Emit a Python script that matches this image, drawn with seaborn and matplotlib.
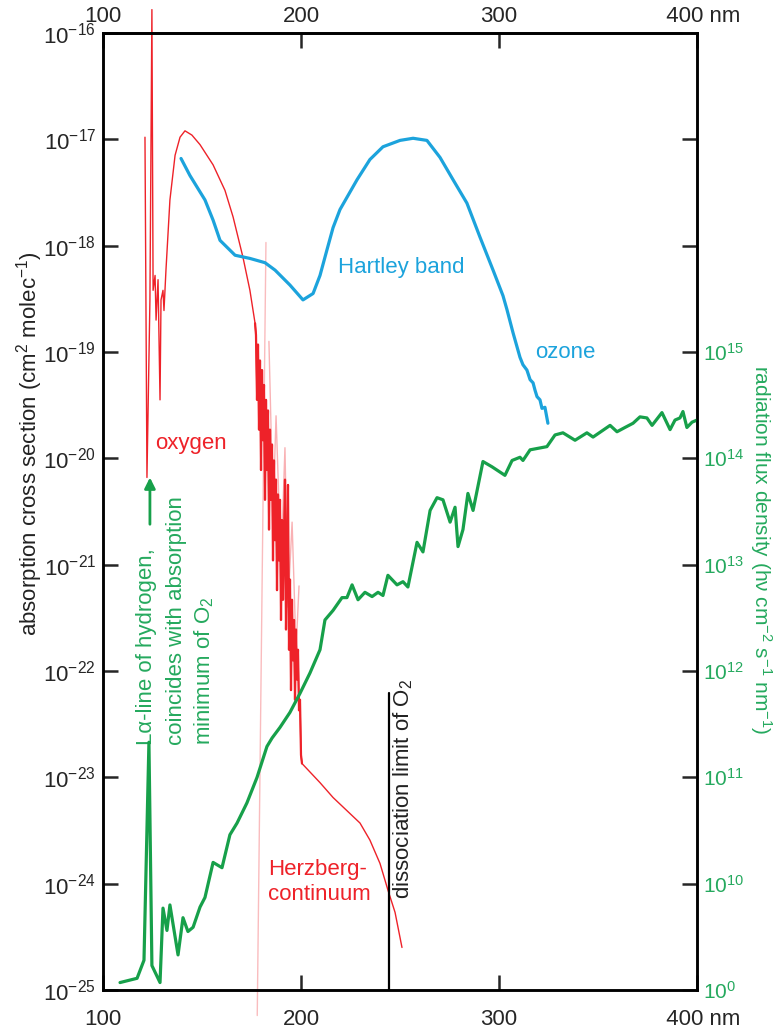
import numpy as np
import matplotlib
matplotlib.use("Agg")
import matplotlib.pyplot as plt
import seaborn as sns

# ---------------- data (wavelength in nm, values as log10) ----------------
# O2 absorption cross section (cm^2 molec^-1)
o2_wl = [121.2, 122.2, 123.7, 124.7, 125.3, 126.3, 126.8, 127.8, 128.8, 129.3,
         130.3, 130.8, 131.8, 133.8, 136.4, 138.9, 141.4, 144.9, 149.0, 155.6,
         161.6, 165.7, 170.7, 174.2, 176.8,
         177.27, 177.78, 178.28, 178.79, 179.29, 179.80, 180.30, 180.81, 181.31, 181.82,
         182.32, 182.83, 183.33, 183.84, 184.34, 184.85, 185.35, 185.86, 186.36, 186.87,
         187.37, 187.88, 188.38, 188.89, 189.39, 189.90, 190.40, 190.91, 191.41, 191.92,
         192.42, 192.93, 193.43, 193.94, 194.44, 194.95, 195.45, 195.96, 196.46, 196.97,
         197.47, 197.98, 198.48, 198.99, 199.49, 200.00, 200.50,
         209.6, 216.2, 224.7, 229.8, 234.8, 239.9, 243.9, 247.5, 251.0]
o2_log = [-16.98, -20.18, -18.51, -15.78, -18.42, -18.28, -18.70, -18.32, -19.45, -18.51,
          -18.42, -18.61, -18.23, -17.57, -17.15, -16.98, -16.92, -16.96, -17.05, -17.24,
          -17.48, -17.73, -18.11, -18.42, -18.73,
          -18.84, -19.45, -18.93, -19.73, -19.08, -20.11, -19.17, -19.83, -19.31, -20.39,
          -19.45, -20.11, -19.55, -20.67, -19.73, -20.39, -19.87, -20.96, -20.02, -20.77,
          -20.20, -21.24, -20.34, -20.96, -20.39, -21.52, -20.58, -21.33, -20.77, -20.20,
          -21.61, -20.96, -20.25, -21.80, -21.14, -22.18, -21.33, -21.90, -21.52, -22.27,
          -21.61, -22.08, -21.80, -22.37, -22.27, -22.79, -22.87,
          -23.05, -23.19, -23.34, -23.43, -23.59, -23.81, -24.06, -24.27, -24.60]
# index range of the Schumann-Runge band structure inside the O2 arrays
sr_start, sr_stop = 24, 72

# faint Schumann-Runge band lines
sr_line_wl = [182.3, 177.9]
sr_line_log = [-17.97, -25.24]
sr_fringe_wl = [183.8, 185.9, 187.4, 189.9, 191.9, 193.4, 195.5, 197.5, 199.0]
sr_fringe_log = [-18.9, -20.5, -19.6, -21.0, -19.9, -21.4, -20.6, -21.8, -21.2]

# O3 absorption cross section (cm^2 molec^-1)
o3_wl = [139.4, 143.9, 151.5, 155.6, 159.1, 166.7, 174.2, 181.8, 186.9, 194.4,
         201.0, 206.1, 209.6, 213.1, 216.2, 219.7, 228.3, 234.8, 241.4, 250.0,
         256.6, 263.6, 270.2, 276.8, 283.8, 290.4, 297.0, 302.0, 304.0, 307.1,
         310.6, 312.1, 314.1, 315.7, 317.2, 318.2, 319.2, 320.7, 321.7, 323.2, 324.7]
o3_log = [-17.18, -17.34, -17.57, -17.76, -17.95, -18.09, -18.12, -18.16, -18.23, -18.37,
          -18.51, -18.45, -18.28, -18.04, -17.83, -17.66, -17.38, -17.19, -17.07, -17.01,
          -16.99, -17.01, -17.17, -17.38, -17.60, -17.92, -18.23, -18.47, -18.60, -18.82,
          -19.05, -19.12, -19.17, -19.26, -19.29, -19.36, -19.42, -19.45, -19.53, -19.52, -19.67]

# solar radiation flux density (hv cm^-2 s^-1 nm^-1)
sol_wl = [108.6, 117.2, 120.7, 123.2, 124.7, 128.8, 130.3, 132.3, 133.8, 137.9,
          140.4, 142.9, 145.5, 149.0, 151.5, 155.6, 160.1, 164.1, 167.7, 172.7,
          177.8, 182.8, 185.4, 189.4, 194.4, 199.5, 204.5, 209.6, 212.1, 216.2,
          220.7, 223.2, 225.8, 228.8, 232.3, 235.9, 238.9, 241.4, 243.9, 248.5,
          251.5, 254.0, 258.6, 261.6, 265.2, 268.7, 271.7, 275.3, 277.8, 279.3,
          281.8, 284.3, 286.9, 291.9, 296.5, 303.0, 306.6, 310.6, 312.1, 315.7,
          324.2, 328.3, 332.3, 338.4, 344.4, 347.5, 356.1, 359.6, 363.6, 367.7,
          371.2, 374.7, 377.3, 382.3, 386.4, 388.9, 391.4, 392.9, 394.9, 397.5, 400.0]
sol_log = [9.07, 9.11, 9.28, 11.33, 9.23, 9.07, 9.77, 9.56, 9.80, 9.33,
           9.68, 9.55, 9.59, 9.78, 9.87, 10.20, 10.15, 10.46, 10.57, 10.76,
           11.00, 11.29, 11.37, 11.47, 11.61, 11.79, 11.98, 12.20, 12.48, 12.57,
           12.69, 12.69, 12.81, 12.67, 12.74, 12.70, 12.74, 12.71, 12.90, 12.81,
           12.84, 12.79, 13.21, 13.12, 13.51, 13.63, 13.61, 13.40, 13.54, 13.17,
           13.33, 13.67, 13.51, 13.97, 13.92, 13.84, 13.98, 14.01, 13.98, 14.08,
           14.11, 14.22, 14.24, 14.17, 14.24, 14.20, 14.31, 14.25, 14.29, 14.33,
           14.39, 14.38, 14.31, 14.43, 14.27, 14.36, 14.38, 14.44, 14.29, 14.34, 14.36]

# O2 dissociation limit
diss_wl = 244.4
diss_top_log = -22.21

x_ticks = [100, 200, 300, 400]
x_ticklabels = ["100", "200", "300", "  400 nm"]
left_exponents = list(range(-25, -15))
right_exponents = list(range(9, 19))
right_ticklabels = ["$10^{0}$"] + [f"$10^{{{k}}}$" for k in range(10, 16)] + ["", "", ""]

# ---------------- style ----------------
sns.set_style("ticks")
plt.rcParams["font.family"] = ["Liberation Sans", "DejaVu Sans"]
plt.rcParams["mathtext.fontset"] = "custom"
plt.rcParams["mathtext.rm"] = "Liberation Sans"
plt.rcParams["mathtext.it"] = "Liberation Sans:italic"
plt.rcParams["mathtext.bf"] = "Liberation Sans:bold"
plt.rcParams["mathtext.sf"] = "Liberation Sans"

RED = "#ee2229"
BLUE = "#1ca3dc"
GREEN = "#17a04a"
GREEN_TXT = "#25a95e"
FS = 16
SPW = 1.8
TL = 10.8

fig = plt.figure(figsize=(7.77, 10.31), dpi=100)
ax = fig.add_axes([103 / 777, 1 - 990 / 1031, 594 / 777, 957 / 1031])
ax.set_yscale("log")
ax.set_xlim(100, 400)
ax.set_ylim(1e-25, 1e-16)

ax2 = ax.twinx()
ax2.set_yscale("log")
ax2.set_ylim(1e9, 1e18)

# ---------------- curves ----------------
o2_sigma = 10.0 ** np.array(o2_log)
sns.lineplot(x=o2_wl, y=o2_sigma, ax=ax, color=RED, lw=1.0,
             sort=False, estimator=None, clip_on=False)
# denser, heavier stroke through the Schumann-Runge bands
sns.lineplot(x=o2_wl[sr_start:sr_stop], y=o2_sigma[sr_start:sr_stop], ax=ax, color=RED,
             lw=1.6, sort=False, estimator=None)
sns.lineplot(x=sr_line_wl, y=10.0 ** np.array(sr_line_log), ax=ax, color=RED, lw=1.0,
             alpha=0.3, sort=False, estimator=None, clip_on=False)
sns.lineplot(x=sr_fringe_wl, y=10.0 ** np.array(sr_fringe_log), ax=ax, color=RED, lw=1.0,
             alpha=0.35, sort=False, estimator=None)
sns.lineplot(x=o3_wl, y=10.0 ** np.array(o3_log), ax=ax, color=BLUE, lw=2.3,
             sort=False, estimator=None)
ax.plot([diss_wl, diss_wl], [1e-25, 10.0 ** diss_top_log], color="black", lw=1.6)

sns.lineplot(x=sol_wl, y=10.0 ** np.array(sol_log), ax=ax2, color=GREEN, lw=2.3,
             sort=False, estimator=None)

# ---------------- axes, ticks ----------------
for a in (ax, ax2):
    for s in a.spines.values():
        s.set_linewidth(SPW)
        s.set_color("black")
    a.minorticks_off()

ax.set_xticks(x_ticks)
ax.set_xticklabels(x_ticklabels)
ax.tick_params(axis="x", which="major", direction="in", length=TL, width=SPW,
               labelsize=FS, pad=14, top=False, bottom=True)
ax.set_yticks([10.0 ** k for k in left_exponents])
ax.set_yticklabels([f"$10^{{{k}}}$" for k in left_exponents])
ax.tick_params(axis="y", which="major", direction="in", length=TL, width=SPW,
               labelsize=FS, pad=5, left=True, right=False)
ax.tick_params(axis="y", which="minor", left=False, right=False)

ax2.set_yticks([10.0 ** k for k in right_exponents])
ax2.set_yticklabels(right_ticklabels)
ax2.tick_params(axis="y", which="major", direction="in", length=TL, width=SPW,
                labelsize=15, pad=4, labelcolor=GREEN_TXT, left=False, right=True)
ax2.tick_params(axis="y", which="minor", left=False, right=False)
ax2.set_ylabel("")

secax = ax.secondary_xaxis("top")
secax.set_xticks(x_ticks)
secax.set_xticklabels(x_ticklabels)
secax.tick_params(axis="x", direction="in", length=TL, width=SPW, labelsize=FS, pad=4)
secax.spines["top"].set_linewidth(SPW)

# ---------------- labels & annotations ----------------
fig.text(30 / 777, 1 - 444 / 1031, "absorption cross section (cm$^2$ molec$^{-1}$)",
         rotation=90, ha="center", va="center", fontsize=FS, color="#222222")
fig.text(761 / 777, 1 - 550 / 1031,
         "radiation flux density (h\u03bd cm$^{-2}$ s$^{-1}$ nm$^{-1}$)",
         rotation=270, ha="center", va="center", fontsize=15, color=GREEN_TXT)

ax.text(250.5, 10 ** -18.21, "Hartley band", color=BLUE, fontsize=FS, ha="center", va="center")
ax.text(318.2, 10 ** -19.0, "ozone", color=BLUE, fontsize=FS, ha="left", va="center")
ax.text(126.3, 10 ** -19.86, "oxygen", color=RED, fontsize=FS, ha="left", va="center")
ax.text(183.3, 10 ** -23.87, "Herzberg-", color=RED, fontsize=FS, ha="left", va="center")
ax.text(183.3, 10 ** -24.10, "continuum", color=RED, fontsize=FS, ha="left", va="center")
ax.text(251.5, 10 ** -24.14, "dissociation limit of O$_2$", color="#222222", fontsize=FS,
        rotation=90, ha="center", va="bottom")

ax.text(122.2, 10 ** -22.70, "L\u03b1-line of hydrogen,", color=GREEN_TXT, fontsize=FS,
        rotation=90, ha="center", va="bottom")
ax.text(136.9, 10 ** -22.70, "coincides with absorption", color=GREEN_TXT, fontsize=FS,
        rotation=90, ha="center", va="bottom")
ax.text(151.0, 10 ** -22.70, "minimum of O$_2$", color=GREEN_TXT, fontsize=FS,
        rotation=90, ha="center", va="bottom")
ax.annotate("", xy=(123.7, 10 ** -20.18), xytext=(123.7, 10 ** -20.62),
            arrowprops=dict(arrowstyle="-|>", color=GREEN, lw=2.0, mutation_scale=16,
                            shrinkA=0, shrinkB=0))

fig.savefig("out.png", dpi=100)
